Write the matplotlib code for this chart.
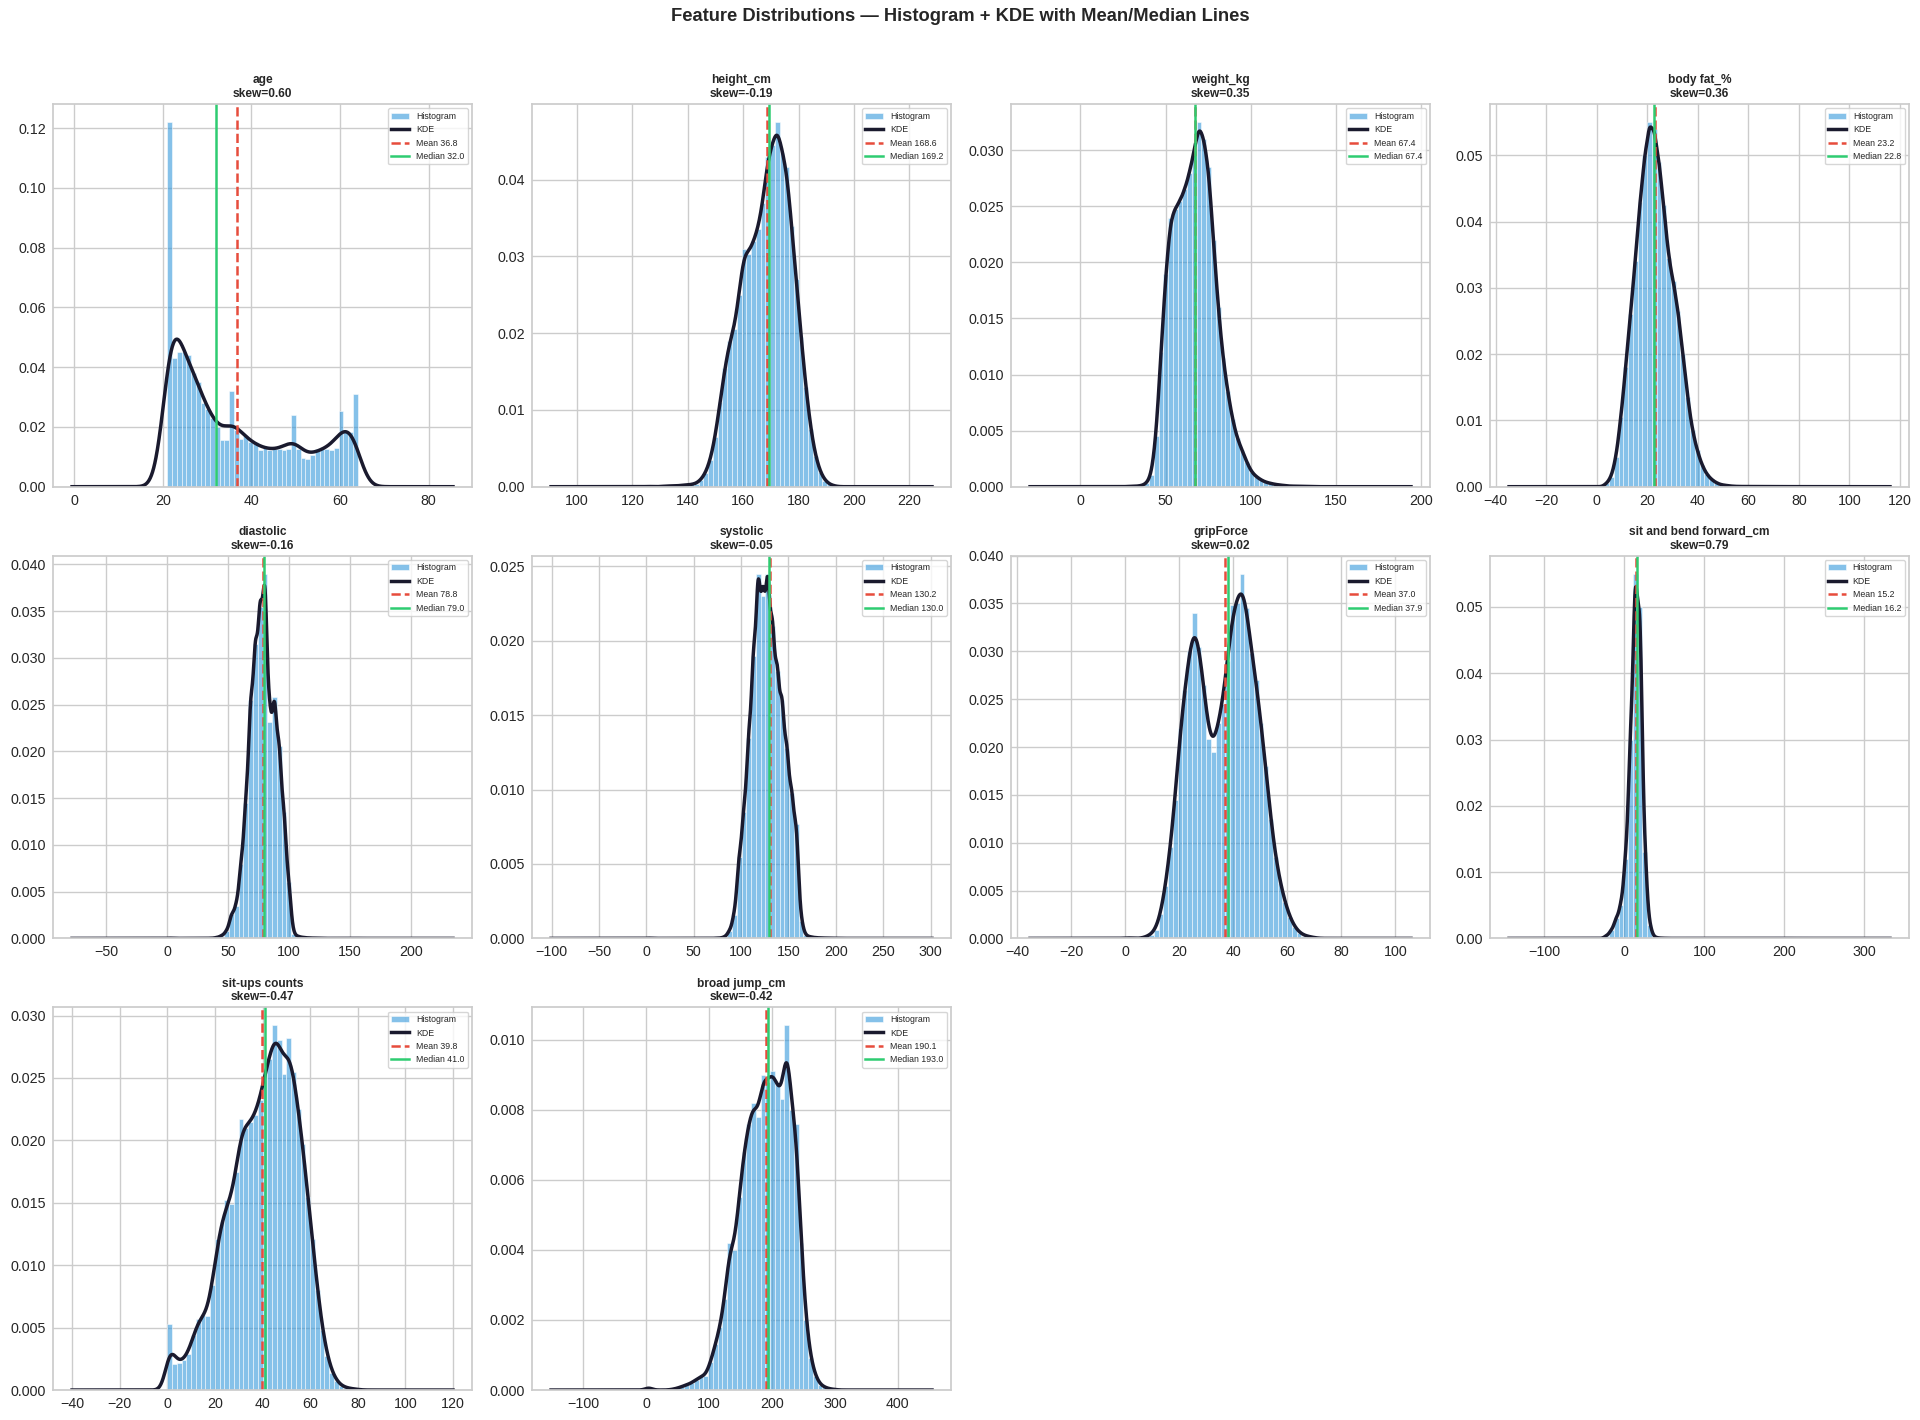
import numpy as np
import matplotlib
matplotlib.use("Agg")
import matplotlib.pyplot as plt

# ---------------- data ----------------
FEATURES = ["age", "height_cm", "weight_kg", "body fat_%", "diastolic",
            "systolic", "gripForce", "sit and bend forward_cm",
            "sit-ups counts", "broad jump_cm"]
DATA_MIN = [21, 125, 26.3, 3, 0, 0, 0, -25, 0, 0]
DATA_MAX = [64, 193.8, 138.1, 78.4, 156.2, 201, 70.5, 213, 80, 303]
MEANS = [36.8, 168.6, 67.4, 23.2, 78.8, 130.2, 37.0, 15.2, 39.8, 190.1]
MEDIANS = [32.0, 169.2, 67.4, 22.8, 79.0, 130.0, 37.9, 16.2, 41.0, 193.0]
SKEWS = [0.60, -0.19, 0.35, 0.36, -0.16, -0.05, 0.02, 0.79, -0.47, -0.42]
N_SAMPLES = 13393

# histogram densities, 40 equal bins between DATA_MIN and DATA_MAX
AGE_DENS = [0.122, 0.043, 0.045, 0.045, 0.044, 0.038, 0.035, 0.028, 0.026, 0.023,
            0.020, 0.0155, 0.0155, 0.032, 0.019, 0.016, 0.017, 0.015, 0.0148, 0.0124,
            0.013, 0.0122, 0.0126, 0.0126, 0.0122, 0.0125, 0.024, 0.0125, 0.0097, 0.0094,
            0.0105, 0.0125, 0.0134, 0.0127, 0.0124, 0.013, 0.0255, 0.0187, 0.0184, 0.031]
HEIGHT_DENS = [0.00005, 0, 0, 0.00005, 0.0001, 0.0001, 0.0001, 0.0002, 0.0002, 0.0003,
               0.0004, 0.0009, 0.0018, 0.0035, 0.0065, 0.011, 0.0155, 0.019, 0.0205, 0.025,
               0.031, 0.0303, 0.032, 0.0336, 0.037, 0.043, 0.0445, 0.0475, 0.0435, 0.0417,
               0.034, 0.027, 0.0195, 0.013, 0.0075, 0.004, 0.0019, 0.0008, 0.0003, 0.0001]
WEIGHT_DENS = [0.00002, 0.00003, 0.00005, 0.0001, 0.0003, 0.001, 0.0045, 0.012, 0.019, 0.024,
               0.0248, 0.0255, 0.0265, 0.028, 0.030, 0.0325, 0.031, 0.0285, 0.022, 0.016,
               0.0115, 0.0085, 0.006, 0.0043, 0.0033, 0.0022, 0.0013, 0.0009, 0.0006, 0.0004,
               0.0003, 0.0002, 0.00015, 0.0001, 0.00005, 0.00005, 0.00003, 0.00003, 0.00002, 0.00002]
BODYFAT_DENS = [0.0005, 0.0015, 0.0045, 0.0105, 0.018, 0.026, 0.034, 0.043, 0.050, 0.055,
                0.054, 0.049, 0.0425, 0.0345, 0.031, 0.0265, 0.020, 0.0135, 0.0085, 0.0055,
                0.0033, 0.0019, 0.0011, 0.0006, 0.0003, 0.0002, 0.0001, 0.00005, 0.00003, 0.00003,
                0.00002, 0.00002, 0.00001, 0.00001, 0.00001, 0.00001, 0.00001, 0.00001, 0.00001, 0.00001]
DIASTOLIC_DENS = [0.00003, 0, 0, 0, 0, 0, 0, 0, 0.00001, 0.00002,
                  0.0001, 0.0003, 0.0008, 0.0026, 0.0035, 0.008, 0.0145, 0.0255, 0.0315, 0.0355,
                  0.039, 0.0232, 0.0258, 0.0206, 0.0135, 0.006, 0.0005, 0.0002, 0.0001, 0.00005,
                  0.00003, 0.00002, 0.00001, 0, 0, 0, 0, 0, 0, 0.00001]
SYSTOLIC_DENS = [0.00002, 0, 0, 0, 0, 0, 0, 0, 0, 0,
                 0, 0, 0, 0, 0.00001, 0.00002, 0.0001, 0.0005, 0.0016, 0.0055,
                 0.0085, 0.0135, 0.019, 0.0245, 0.023, 0.0245, 0.021, 0.018, 0.016, 0.0128,
                 0.0098, 0.0077, 0.0012, 0.0002, 0.0001, 0.00005, 0.00003, 0.00002, 0.00001, 0.00001]
GRIP_DENS = [0.0001, 0, 0, 0, 0.0002, 0.0004, 0.0009, 0.0025, 0.0055, 0.0095,
             0.0145, 0.022, 0.026, 0.030, 0.034, 0.0305, 0.0265, 0.0208, 0.0195, 0.0225,
             0.0245, 0.029, 0.0348, 0.035, 0.0381, 0.0345, 0.0298, 0.027, 0.0225, 0.018,
             0.0125, 0.0085, 0.0058, 0.0038, 0.0022, 0.0012, 0.0006, 0.0003, 0.0002, 0.0001]
SITBEND_DENS = [0.0004, 0.0012, 0.003, 0.005, 0.012, 0.030, 0.055, 0.050, 0.013, 0.002,
                0.0002, 0.00005, 0.00002, 0, 0, 0, 0, 0, 0, 0,
                0, 0, 0, 0, 0, 0, 0, 0, 0, 0,
                0, 0, 0, 0, 0, 0, 0, 0, 0, 0.00001]
SITUPS_DENS = [0.0053, 0.0021, 0.0022, 0.0024, 0.0029, 0.0044, 0.0057, 0.006, 0.0059, 0.0084,
               0.0121, 0.0135, 0.0152, 0.0149, 0.0175, 0.0217, 0.021, 0.0215, 0.022, 0.0232,
               0.0255, 0.0265, 0.0292, 0.028, 0.0253, 0.0282, 0.0255, 0.0225, 0.0197, 0.0155,
               0.0121, 0.008, 0.0048, 0.0027, 0.0014, 0.0007, 0.0003, 0.0002, 0.0001, 0.0001]
BROADJUMP_DENS = [0.0001, 0, 0, 0, 0, 0.00002, 0.00005, 0.0001, 0.00015, 0.0002,
                  0.0003, 0.0004, 0.0004, 0.0008, 0.0013, 0.0018, 0.0026, 0.0042, 0.004, 0.0055,
                  0.0068, 0.0076, 0.0082, 0.0078, 0.009, 0.0088, 0.0091, 0.0087, 0.0083, 0.0104,
                  0.008, 0.0076, 0.0042, 0.002, 0.0009, 0.0004, 0.00015, 0.00008, 0.00003, 0.00002]

HISTS = [AGE_DENS, HEIGHT_DENS, WEIGHT_DENS, BODYFAT_DENS, DIASTOLIC_DENS,
         SYSTOLIC_DENS, GRIP_DENS, SITBEND_DENS, SITUPS_DENS, BROADJUMP_DENS]

# ---------------- style ----------------
plt.rcParams.update({
    "font.family": ["Liberation Sans", "DejaVu Sans"],
    "axes.facecolor": "white",
    "axes.edgecolor": "#cccccc",
    "axes.linewidth": 1.25,
    "axes.grid": True,
    "grid.color": "#cccccc",
    "grid.linewidth": 1.0,
    "axes.axisbelow": True,
    "xtick.major.size": 0,
    "ytick.major.size": 0,
    "xtick.major.pad": 5,
    "ytick.major.pad": 5,
    "xtick.color": "#262626",
    "ytick.color": "#262626",
    "xtick.labelsize": 10.3,
    "ytick.labelsize": 10.3,
    "text.color": "#262626",
    "legend.frameon": True,
    "legend.framealpha": 0.8,
    "legend.edgecolor": "#cccccc",
})

HIST_COLOR = "#3498db"
KDE_COLOR = "#1a1a2e"
MEAN_COLOR = "#e74c3c"
MEDIAN_COLOR = "#2ecc71"

fig, axes = plt.subplots(3, 4, figsize=(19.2, 14.2), dpi=100)
plt.subplots_adjust(left=0.0276, right=0.9943, bottom=0.0211, top=0.9268,
                    wspace=0.143, hspace=0.18)

for i, ax in enumerate(axes.flat):
    if i >= len(FEATURES):
        ax.remove()
        continue
    lo, hi = DATA_MIN[i], DATA_MAX[i]
    dens = np.asarray(HISTS[i], dtype=float)
    edges = np.linspace(lo, hi, len(dens) + 1)
    centers = 0.5 * (edges[:-1] + edges[1:])
    binw = edges[1] - edges[0]

    ax.hist(centers, bins=edges, weights=dens, color=HIST_COLOR, alpha=0.6,
            edgecolor="white", linewidth=0.6, label="Histogram")

    # KDE derived from the histogram (Scott's rule bandwidth)
    w = dens * binw
    mu = np.sum(w * centers) / w.sum()
    sd = np.sqrt(np.sum(w * (centers - mu) ** 2) / w.sum())
    bw = max(sd * N_SAMPLES ** (-0.2), 0.5 * binw)
    rng = hi - lo
    xs = np.linspace(lo - 0.5 * rng, hi + 0.5 * rng, 1000)
    kde = (w[None, :] * np.exp(-0.5 * ((xs[:, None] - centers[None, :]) / bw) ** 2)).sum(1)
    kde /= bw * np.sqrt(2 * np.pi)
    ax.plot(xs, kde, color=KDE_COLOR, lw=2.5, label="KDE")

    ax.axvline(MEANS[i], color=MEAN_COLOR, ls="--", lw=1.8, label=f"Mean {MEANS[i]:.1f}")
    ax.axvline(MEDIANS[i], color=MEDIAN_COLOR, ls="-", lw=1.8, label=f"Median {MEDIANS[i]:.1f}")

    ax.set_title(f"{FEATURES[i]}\nskew={SKEWS[i]:.2f}", fontsize=8.6,
                 fontweight="bold", color="#262626", pad=5)
    ax.legend(fontsize=6.3, loc="upper right")

fig.suptitle("Feature Distributions \u2014 Histogram + KDE with Mean/Median Lines",
             fontsize=13.2, fontweight="bold", y=0.9887, va="center")

fig.savefig("out.png", dpi=100)
